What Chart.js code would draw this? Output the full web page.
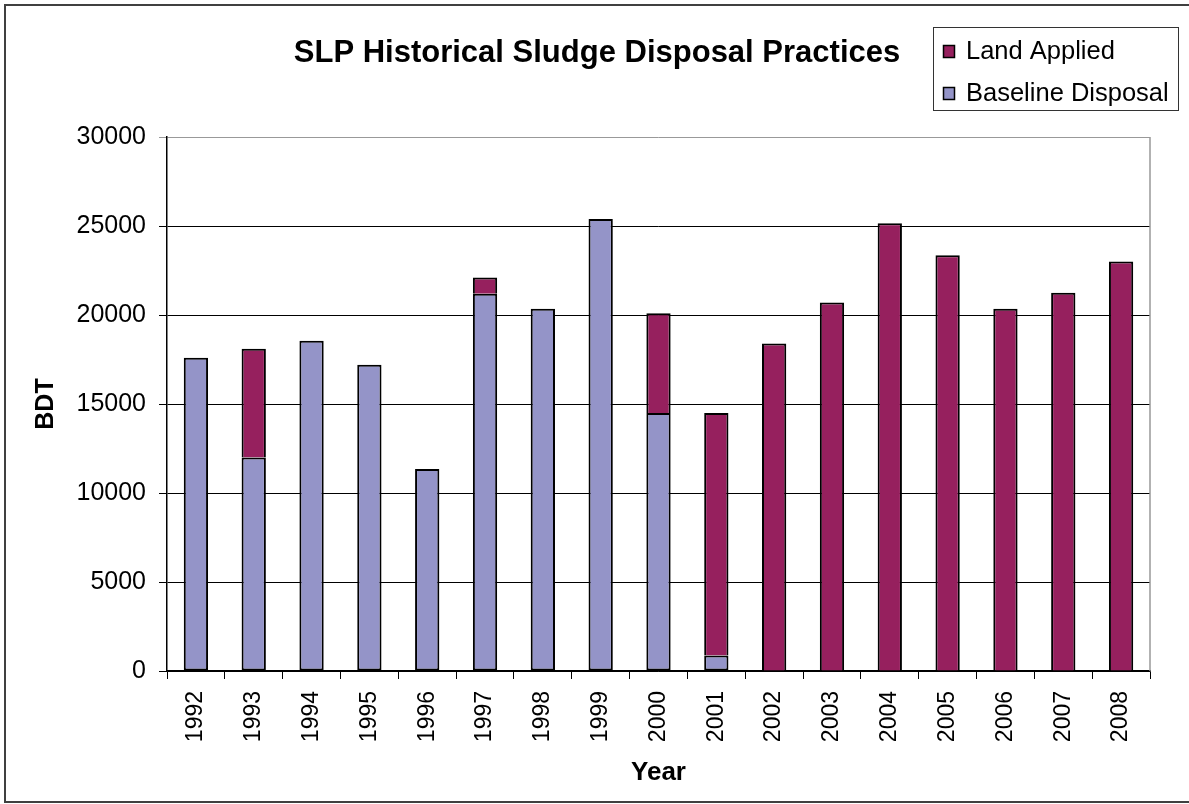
<!DOCTYPE html>
<html>
<head>
<meta charset="utf-8">
<script src="https://cdn.jsdelivr.net/npm/chart.js@4"></script>
<style>
  html, body { margin: 0; padding: 0; background: #fff; }
  #wrap { width: 1189px; height: 804px; position: relative; }
</style>
</head>
<body>
<div id="wrap"><canvas id="chart" width="1189" height="804"></canvas></div>
<script>
const years = ['1992','1993','1994','1995','1996','1997','1998','1999','2000','2001','2002','2003','2004','2005','2006','2007','2008'];
const baselineDisposal = [17600, 12000, 18550, 17200, 11350, 21200, 20350, 25400, 14500, 870, 0, 0, 0, 0, 0, 0, 0];
const landApplied = [0, 6100, 0, 0, 0, 900, 0, 0, 5600, 13630, 18400, 20700, 25150, 23350, 20350, 21250, 23000];
const yTicks = [0, 5000, 10000, 15000, 20000, 25000, 30000];

const FONT = "'Liberation Sans', Arial, sans-serif";
const PURPLE = '#9494C8';
const PLUM = '#96205E';

// frame, title, legend box and plot border
const decor = {
  id: 'decor',
  beforeDraw(chart) {
    const ctx = chart.ctx;
    ctx.save();
    ctx.fillStyle = '#fff';
    ctx.fillRect(0, 0, chart.width, chart.height);
    ctx.restore();
  },
  afterDraw(chart) {
    const ctx = chart.ctx;
    const a = chart.chartArea;
    ctx.save();
    // outer frame (right edge falls outside the picture)
    ctx.strokeStyle = '#404040';
    ctx.lineWidth = 2;
    ctx.strokeRect(5, 5, 1190, 797);
    // right border of plot area
    ctx.strokeStyle = '#999';
    ctx.lineWidth = 1.5;
    ctx.beginPath();
    ctx.moveTo(a.right, a.top);
    ctx.lineTo(a.right, a.bottom);
    ctx.stroke();
    // title
    ctx.fillStyle = '#000';
    ctx.font = 'bold 31px ' + FONT;
    ctx.textAlign = 'center';
    ctx.textBaseline = 'middle';
    ctx.fillText('SLP Historical Sludge Disposal Practices', 597, 53);
    // legend
    ctx.strokeStyle = '#333';
    ctx.lineWidth = 1;
    ctx.strokeRect(933.5, 27.5, 245, 83);
    const items = [chart.data.datasets[1], chart.data.datasets[0]];
    ctx.font = '25.5px ' + FONT;
    ctx.textAlign = 'left';
    items.forEach((ds, i) => {
      const y = 51 + i * 42;
      ctx.fillStyle = ds.backgroundColor;
      ctx.fillRect(943, y - 6, 12, 13);
      ctx.strokeStyle = '#000';
      ctx.lineWidth = 1.5;
      ctx.strokeRect(943.5, y - 5.5, 11, 12);
      ctx.fillStyle = '#000';
      ctx.fillText(ds.label, 966, y + 1);
    });
    ctx.restore();
  }
};

// no outline on empty segments
const edge = ctx => (ctx.raw ? 2 : 0);

new Chart(document.getElementById('chart'), {
  type: 'bar',
  data: {
    labels: years,
    datasets: [
      {
        label: 'Baseline Disposal',
        data: baselineDisposal,
        backgroundColor: PURPLE,
        borderColor: '#000',
        borderWidth: edge,
        borderSkipped: false
      },
      {
        label: 'Land Applied',
        data: landApplied,
        backgroundColor: PLUM,
        borderColor: '#000',
        borderWidth: edge,
        borderSkipped: 'start'
      }
    ]
  },
  options: {
    responsive: false,
    animation: false,
    barPercentage: 0.42,
    categoryPercentage: 1.0,
    layout: { padding: { top: 137, right: 39, bottom: 16, left: 31 } },
    plugins: {
      legend: { display: false },
      title: { display: false },
      tooltip: { enabled: false }
    },
    scales: {
      x: {
        stacked: true,
        afterFit(scale) { scale.height = 117; },
        grid: {
          offset: true,
          drawOnChartArea: false,
          tickLength: 8,
          color: '#000'
        },
        border: { color: '#000', width: 1.5 },
        ticks: {
          color: '#000',
          font: { family: FONT, size: 23 },
          minRotation: 90,
          maxRotation: 90,
          padding: 12
        },
        title: {
          display: true,
          text: 'Year',
          color: '#000',
          font: { family: FONT, size: 26, weight: 'bold' },
          padding: 0
        }
      },
      y: {
        stacked: true,
        min: 0,
        max: 30000,
        afterFit(scale) { scale.width = 136; },
        afterBuildTicks(axis) {
          axis.ticks = yTicks.map(v => ({ value: v }));
        },
        grid: {
          color: ctx => (ctx.tick && ctx.tick.value === 30000) ? '#999' : '#000',
          lineWidth: 1,
          tickLength: 8
        },
        border: { color: '#000', width: 1.5 },
        ticks: {
          color: '#000',
          font: { family: FONT, size: 25 },
          padding: 13,
          callback: v => String(v)
        },
        title: {
          display: true,
          text: 'BDT',
          color: '#000',
          font: { family: FONT, size: 25, weight: 'bold' },
          padding: 0
        }
      }
    }
  },
  plugins: [decor]
});
</script>
</body>
</html>
